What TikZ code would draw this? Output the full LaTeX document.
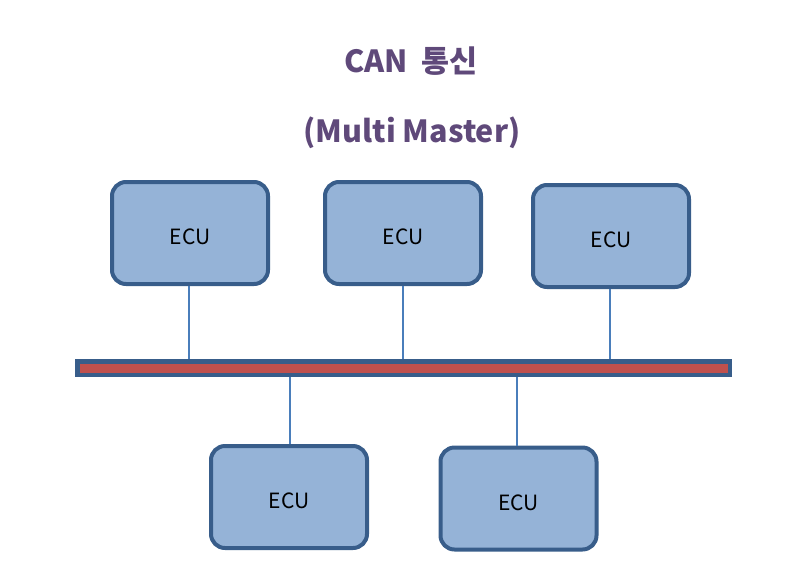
\documentclass[tikz,border=0pt]{standalone}
\usepackage{fontspec}
\setmainfont{Noto Sans CJK KR}
\definecolor{boxfill}{HTML}{95B3D7}
\definecolor{boxline}{HTML}{385D8A}
\definecolor{wire}{HTML}{4A7EBB}
\definecolor{busred}{HTML}{C0504D}
\definecolor{titlec}{HTML}{5F497A}
\newcommand{\ecutext}{\raisebox{-4pt}[\height][\depth]{ECU}}
\tikzset{
  ecu/.style={draw=boxline, fill=boxfill, line width=4pt, rounded corners=14pt,
    minimum width=156pt, minimum height=102pt, inner sep=0pt,
    font=\fontsize{21pt}{24pt}\selectfont, text=black},
  wireline/.style={draw=wire, line width=1.5pt},
  busbar/.style={draw=boxline, fill=busred, line width=4.5pt,
    minimum width=652.5pt, minimum height=13.5pt, inner sep=0pt},
  titletext/.style={font=\bfseries\fontsize{30.5pt}{34pt}\selectfont, text=titlec}
}
\begin{document}
\begin{tikzpicture}[x=1pt,y=-1pt]
\useasboundingbox (0,0) rectangle (789,582);
\node[titletext] (t1) at (411,61) {CAN\hspace{0.45em}통신};
\node[titletext] (t2) at (412,133) {(Multi Master)};
\node[busbar] (bus) at (403.5,368) {};
\node[ecu] (e1) at (190,233) {\ecutext};
\node[ecu] (e2) at (403,233) {\ecutext};
\node[ecu] (e3) at (611,236) {\ecutext};
\node[ecu] (e4) at (289,497) {\ecutext};
\node[ecu] (e5) at (518.5,498.5) {\ecutext};
\draw[wireline] (189,286) coordinate (c1) -- (c1 |- bus.north);
\draw[wireline] (e2.south) -- (e2.south |- bus.north);
\draw[wireline] (610,289) coordinate (c3) -- (c3 |- bus.north);
\draw[wireline] (290,444) coordinate (c4) -- (c4 |- bus.south);
\draw[wireline] (517,446) coordinate (c5) -- (c5 |- bus.south);
\node[busbar] at (bus) {};
\end{tikzpicture}
\end{document}
